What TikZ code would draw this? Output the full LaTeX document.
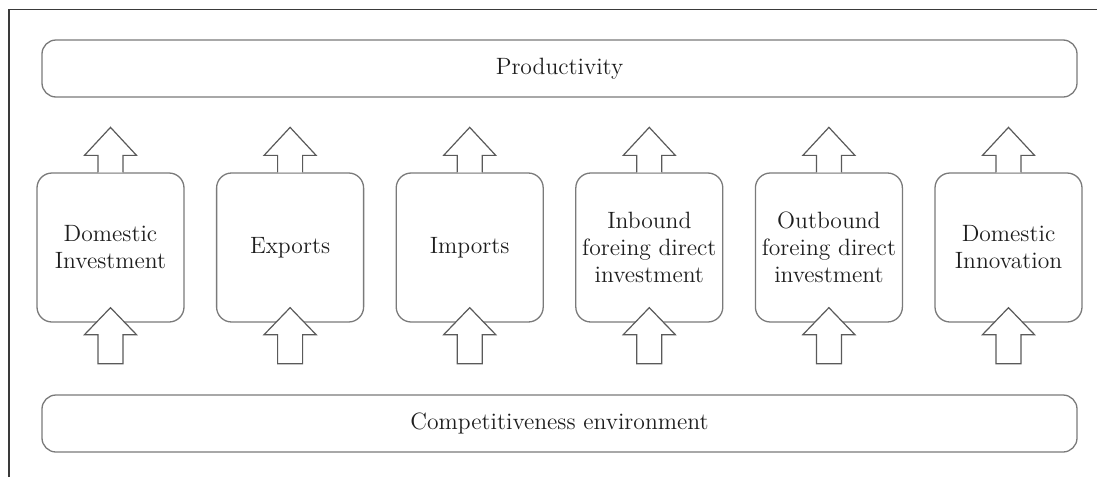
\documentclass[tikz,border=0pt]{standalone}
\usetikzlibrary{calc}
\definecolor{boxline}{HTML}{7A7A7A}
\definecolor{arrline}{HTML}{5A5A5A}
\definecolor{frameline}{HTML}{3A3A3A}
\definecolor{txt}{HTML}{1E1E1E}
\begin{document}
\begin{tikzpicture}[x=0.5pt,y=-0.5pt,
  widebox/.style={draw=boxline,line width=0.65pt,rounded corners=7pt,minimum width=517.5pt,minimum height=28.5pt,inner sep=0pt,text=txt,font=\fontsize{11.8}{13.5}\selectfont},
  factbox/.style={draw=boxline,line width=0.65pt,rounded corners=7.5pt,minimum width=73.5pt,minimum height=74.5pt,inner sep=0pt,text=txt,align=center,font=\fontsize{11.8}{13.5}\selectfont},
  fatarrow/.style={draw=arrline,line width=0.6pt,fill=white,line join=miter},
  frame/.style={draw=frameline,line width=0.6pt}]
\useasboundingbox (0,0) rectangle (1097,477);
\coordinate (fa) at (9,477);
\coordinate (fb) at (9,9.5);
\coordinate (fc) at (1097,9.5);
\draw[frame] (fa) -- (fb) -- (fc);
\node[widebox] (prod) at (559.5,68.5) {Productivity};
\node[widebox] (comp) at (559.5,423.5) {Competitiveness environment};
\node[factbox] (b1) at (110.5,247.5) {Domestic\\Investment};
\node[factbox] (b2) at (290.1,247.5) {Exports};
\node[factbox] (b3) at (469.7,247.5) {Imports};
\node[factbox] (b4) at (649.3,247.5) {Inbound\\foreing direct\\investment};
\node[factbox] (b5) at (828.9,247.5) {Outbound\\foreing direct\\investment};
\node[factbox] (b6) at (1008.5,247.5) {Domestic\\Innovation};
\foreach \i in {1,...,6}{
  \draw[fatarrow] ([xshift=-6.25pt]b\i.north) -- ++(0,-17) -- ++(-13.5,0) -- ++(26,-28) -- ++(26,28) -- ++(-13.5,0) -- ++(0,17);
  \draw[fatarrow] ([xshift=-6.25pt,yshift=-20.5pt]b\i.south) -- ++(0,-29) -- ++(-13.5,0) -- ++(26,-27) -- ++(26,27) -- ++(-13.5,0) -- ++(0,29) -- cycle;
}
\end{tikzpicture}
\end{document}
